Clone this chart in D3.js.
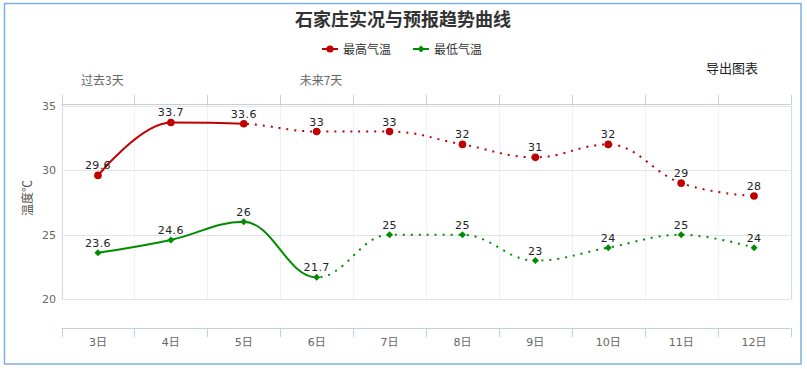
<!DOCTYPE html>
<html>
<head>
<meta charset="utf-8">
<script src="https://cdn.jsdelivr.net/npm/d3@7"></script>
<style>
  body { margin: 0; background: #fff; }
  svg { display: block; }
</style>
</head>
<body>
<svg id="chart" width="807" height="369"></svg>
<script>
// chart data
const days = ["3日", "4日", "5日", "6日", "7日", "8日", "9日", "10日", "11日", "12日"];
const highTemps = [29.6, 33.7, 33.6, 33, 33, 32, 31, 32, 29, 28];
const lowTemps = [23.6, 24.6, 26, 21.7, 25, 25, 23, 24, 25, 24];
const yTicks = [20, 25, 30, 35];
const bandLabels = [{ text: "过去3天", from: "3日" }, { text: "未来7天", from: "6日" }];
// last observed point (solid line ends here, dotted after)
const highPastEnd = "5日";
const lowPastEnd = "6日";

const svg = d3.select("#chart");
const cnFont = "'Noto Sans CJK SC', 'DejaVu Sans', sans-serif";
const numFont = "'DejaVu Sans', 'Noto Sans CJK SC', sans-serif";

const plotLeft = 61.5, plotRight = 790.5, plotTop = 104, plotBottom = 299.3;
const bottomAxisY = 328;

const x = d3.scaleBand().domain(days).range([plotLeft, plotRight]);
const cx = d => x(d) + x.bandwidth() / 2;
const y = d3.scaleLinear().domain([20, 35]).range([plotBottom, 105.7]);

// outer border
svg.append("rect")
    .attr("x", 4.5).attr("y", 3.5)
    .attr("width", 796.5).attr("height", 360.5)
    .attr("fill", "none")
    .attr("stroke", "#7eb0e2")
    .attr("stroke-width", 1.5);

// title
svg.append("text")
    .attr("x", 403).attr("y", 26)
    .attr("text-anchor", "middle")
    .style("font-family", cnFont)
    .style("font-size", "18px")
    .style("font-weight", "bold")
    .attr("fill", "#333")
    .text("石家庄实况与预报趋势曲线");

// export button text
svg.append("text")
    .attr("x", 706).attr("y", 73)
    .style("font-family", cnFont)
    .style("font-size", "13px")
    .attr("fill", "#222")
    .text("导出图表");

// vertical grid lines
const gridXs = days.map(d => x(d)).concat([plotRight]);
svg.selectAll(".vgrid")
    .data(gridXs)
    .enter().append("line")
    .attr("class", "vgrid")
    .attr("x1", d => Math.round(d) + 0.5).attr("x2", d => Math.round(d) + 0.5)
    .attr("y1", plotTop).attr("y2", plotBottom)
    .attr("stroke", (d, i) => (i === 0 || i === gridXs.length - 1) ? "#d0dcec" : "#eef0f4")
    .attr("stroke-width", 1);

// horizontal grid lines
svg.selectAll(".hgrid")
    .data(yTicks)
    .enter().append("line")
    .attr("class", "hgrid")
    .attr("x1", plotLeft).attr("x2", plotRight)
    .attr("y1", d => Math.round(y(d)) + 0.5).attr("y2", d => Math.round(y(d)) + 0.5)
    .attr("stroke", "#e4e4e4");

// y labels
svg.selectAll(".ylab")
    .data(yTicks)
    .enter().append("text")
    .attr("class", "ylab")
    .attr("x", 56).attr("y", d => y(d) + 4)
    .attr("text-anchor", "end")
    .style("font-family", numFont)
    .style("font-size", "11px")
    .attr("fill", "#666")
    .text(d => d);

// y title
svg.append("text")
    .attr("transform", "translate(32,198) rotate(-90)")
    .attr("text-anchor", "middle")
    .style("font-family", cnFont)
    .style("font-size", "12px")
    .attr("fill", "#555")
    .text("温度℃");

// top axis with ticks going up
svg.append("line")
    .attr("x1", plotLeft).attr("x2", plotRight)
    .attr("y1", plotTop + 0.5).attr("y2", plotTop + 0.5)
    .attr("stroke", "#c0d0e0");
svg.selectAll(".ttick")
    .data(gridXs)
    .enter().append("line")
    .attr("class", "ttick")
    .attr("x1", d => Math.round(d) + 0.5).attr("x2", d => Math.round(d) + 0.5)
    .attr("y1", plotTop - 9).attr("y2", plotTop)
    .attr("stroke", "#c0d0e0");

// band labels (past / forecast)
svg.selectAll(".blab")
    .data(bandLabels)
    .enter().append("text")
    .attr("class", "blab")
    .attr("x", d => x(d.from) + 19.5).attr("y", 85)
    .style("font-family", cnFont)
    .style("font-size", "12px")
    .attr("fill", "#666")
    .text(d => d.text);

// bottom axis
svg.append("line")
    .attr("x1", plotLeft).attr("x2", plotRight)
    .attr("y1", bottomAxisY + 0.5).attr("y2", bottomAxisY + 0.5)
    .attr("stroke", "#c0d0e0");
svg.selectAll(".btick")
    .data(gridXs)
    .enter().append("line")
    .attr("class", "btick")
    .attr("x1", d => Math.round(d) + 0.5).attr("x2", d => Math.round(d) + 0.5)
    .attr("y1", bottomAxisY).attr("y2", bottomAxisY + 9)
    .attr("stroke", "#c0d0e0");
svg.selectAll(".xlab")
    .data(days)
    .enter().append("text")
    .attr("class", "xlab")
    .attr("x", d => cx(d)).attr("y", 346)
    .attr("text-anchor", "middle")
    .style("font-family", numFont)
    .style("font-size", "11px")
    .attr("fill", "#666")
    .text(d => d);

// Highcharts-like spline path
function splinePath(pts) {
    const sm = 1.5, den = 2.5;
    const ctrl = pts.map((p, i) => {
        if (i === 0 || i === pts.length - 1) return { lx: p[0], ly: p[1], rx: p[0], ry: p[1] };
        const last = pts[i - 1], next = pts[i + 1];
        let lx = (sm * p[0] + last[0]) / den, ly = (sm * p[1] + last[1]) / den;
        let rx = (sm * p[0] + next[0]) / den, ry = (sm * p[1] + next[1]) / den;
        const corr = ((ry - ly) * (rx - p[0])) / (rx - lx) + p[1] - ry;
        ly += corr; ry += corr;
        if (ly > last[1] && ly > p[1]) { ly = Math.max(last[1], p[1]); ry = 2 * p[1] - ly; }
        else if (ly < last[1] && ly < p[1]) { ly = Math.min(last[1], p[1]); ry = 2 * p[1] - ly; }
        if (ry > next[1] && ry > p[1]) { ry = Math.max(next[1], p[1]); ly = 2 * p[1] - ry; }
        else if (ry < next[1] && ry < p[1]) { ry = Math.min(next[1], p[1]); ly = 2 * p[1] - ry; }
        return { lx, ly, rx, ry };
    });
    let d = "M" + pts[0][0] + "," + pts[0][1];
    for (let i = 1; i < pts.length; i++) {
        d += "C" + ctrl[i - 1].rx + "," + ctrl[i - 1].ry + " " + ctrl[i].lx + "," + ctrl[i].ly + " " + pts[i][0] + "," + pts[i][1];
    }
    return d;
}

const defs = svg.append("defs");

function drawSeries(values, color, pastEnd, name, symbol) {
    const pts = days.map((d, i) => [cx(d), y(values[i])]);
    const path = splinePath(pts);
    const splitX = cx(pastEnd);

    defs.append("clipPath").attr("id", name + "-past")
        .append("rect").attr("x", 0).attr("y", 0).attr("width", splitX).attr("height", 369);
    defs.append("clipPath").attr("id", name + "-future")
        .append("rect").attr("x", splitX).attr("y", 0).attr("width", 807 - splitX).attr("height", 369);

    svg.append("path")
        .attr("d", path)
        .attr("clip-path", `url(#${name}-past)`)
        .attr("fill", "none")
        .attr("stroke", color)
        .attr("stroke-width", 2);

    svg.append("path")
        .attr("d", path)
        .attr("clip-path", `url(#${name}-future)`)
        .attr("fill", "none")
        .attr("stroke", color)
        .attr("stroke-width", 2)
        .attr("stroke-dasharray", "2,6");

    const g = svg.append("g");
    if (symbol === "circle") {
        g.selectAll("circle").data(pts).enter().append("circle")
            .attr("cx", d => d[0]).attr("cy", d => d[1]).attr("r", 3.8)
            .attr("fill", color);
    } else {
        g.selectAll("path").data(pts).enter().append("path")
            .attr("d", d => `M${d[0]},${d[1] - 3.5}L${d[0] + 3.5},${d[1]}L${d[0]},${d[1] + 3.5}L${d[0] - 3.5},${d[1]}Z`)
            .attr("fill", color);
    }

    svg.append("g").selectAll("text").data(values).enter().append("text")
        .attr("x", (d, i) => pts[i][0])
        .attr("y", (d, i) => pts[i][1] - 6)
        .attr("text-anchor", "middle")
        .style("font-family", numFont)
        .style("font-size", "11px")
        .style("letter-spacing", "0.4px")
        .attr("fill", "#222")
        .text(d => d);
}

drawSeries(highTemps, "#c00000", highPastEnd, "high", "circle");
drawSeries(lowTemps, "#008c00", lowPastEnd, "low", "diamond");

// legend
const legendItems = [
    { name: "最高气温", color: "#c00000", symbol: "circle", x: 322 },
    { name: "最低气温", color: "#008c00", symbol: "diamond", x: 413 }
];
const legend = svg.selectAll(".legend")
    .data(legendItems)
    .enter().append("g")
    .attr("class", "legend")
    .attr("transform", d => `translate(${d.x},49)`);
legend.append("line")
    .attr("x1", 0).attr("x2", 16)
    .attr("stroke", d => d.color)
    .attr("stroke-width", 2);
legend.append("path")
    .attr("d", d => d.symbol === "circle" ? d3.symbol(d3.symbolCircle, 40)() : "M8,-3.5L11.5,0L8,3.5L4.5,0Z")
    .attr("transform", d => d.symbol === "circle" ? "translate(8,0)" : null)
    .attr("fill", d => d.color);
legend.append("text")
    .attr("x", 21).attr("y", 5)
    .style("font-family", cnFont)
    .style("font-size", "12px")
    .attr("fill", "#333")
    .text(d => d.name);
</script>
</body>
</html>
